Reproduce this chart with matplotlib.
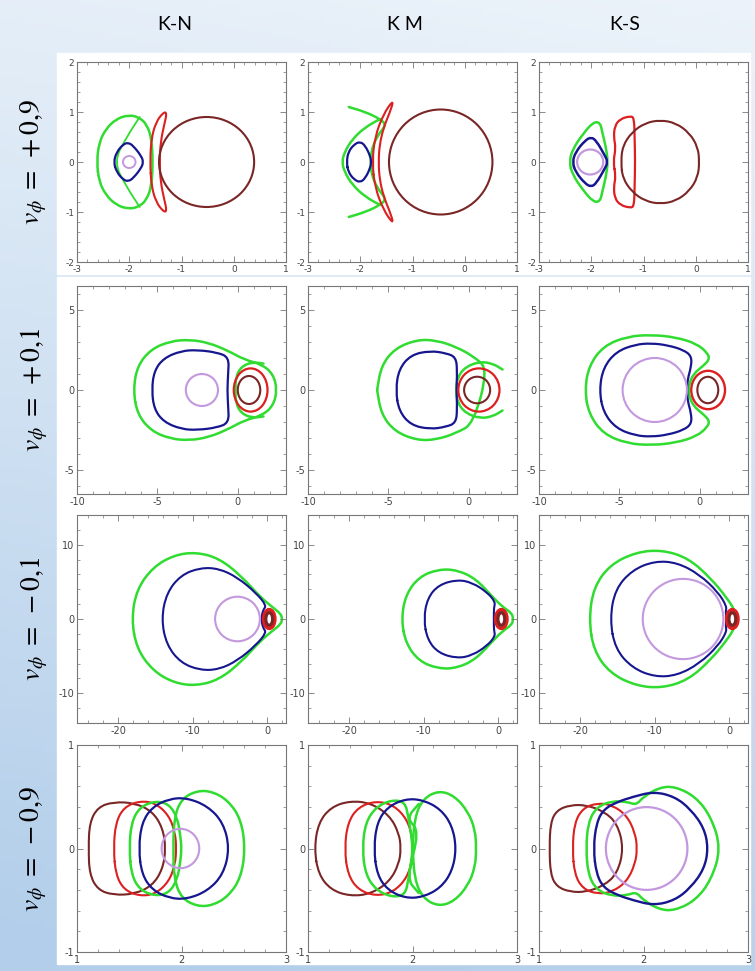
import numpy as np
import matplotlib
matplotlib.use("Agg")
import matplotlib.pyplot as plt
from matplotlib.path import Path
from matplotlib.patches import PathPatch, Ellipse, Rectangle
from matplotlib.ticker import FixedLocator, AutoMinorLocator

plt.rcParams["axes.unicode_minus"] = False
plt.rcParams["mathtext.fontset"] = "stix"

W, H = 755, 971

COL_TITLES = ["K-N", "K M", "K-S"]
ROW_LABELS = [r"$v_\phi\;=\;+0{,}9$", r"$v_\phi\;=\;+0{,}1$",
              r"$v_\phi\;=\;-0{,}1$", r"$v_\phi\;=\;-0{,}9$"]

XLIMS = [(-3, 1), (-10, 3), (-25.5, 2.5), (1, 3)]
YLIMS = [(-2, 2), (-6.5, 6.5), (-14, 14), (-1, 1)]
XTICKS = [[-3, -2, -1, 0, 1], [-10, -5, 0], [-20, -10, 0], [1, 2, 3]]
YTICKS = [[-2, -1, 0, 1, 2], [-5, 0, 5], [-10, 0, 10], [-1, 0, 1]]

GREEN = "#2fdc2f"
BLUE = "#16168f"
VIOLET = "#c398de"
RED = "#dc1f1f"
BROWN = "#7a2626"

# --- curves: upper halves (y >= 0), mirrored about y = 0 ---
# row 1, v = +0.9
KN09_GREEN = [(-2.62, 0), (-2.58, 0.38), (-2.45, 0.66), (-2.25, 0.86), (-2.02, 0.94),
              (-1.82, 0.9), (-1.66, 0.75), (-1.57, 0.45), (-1.55, 0)]
KN09_GREEN_IN = [(-1.8, 0.9), (-2.05, 0.5), (-2.3, 0)]
KN09_BLUE = [(-2.3, 0), (-2.24, 0.2), (-2.12, 0.35), (-2.02, 0.39), (-1.92, 0.32),
             (-1.77, 0.12), (-1.73, 0)]
KN09_VIOLET = (-2.0, 0.24, 0.24)
KN09_RED = [(-1.6, 0), (-1.58, 0.45), (-1.49, 0.8), (-1.34, 1.0), (-1.28, 0.98),
            (-1.33, 0.75), (-1.4, 0.4), (-1.42, 0)]
KN09_BROWN = (-0.52, 1.82, 1.8)

KM09_GREEN_L = [(-1.62, 0.86), (-1.9, 0.7), (-2.15, 0.46), (-2.3, 0.2), (-2.35, 0)]
KM09_GREEN_R = [(-2.22, 1.1), (-1.9, 1.0), (-1.62, 0.86), (-1.5, 0.74), (-1.68, 0.52),
                (-1.79, 0.22), (-1.8, 0)]
KM09_BLUE = [(-2.26, 0), (-2.23, 0.2), (-2.12, 0.35), (-2.0, 0.41), (-1.9, 0.32),
             (-1.81, 0.12), (-1.79, 0)]
KM09_RED = [(-1.77, 0), (-1.72, 0.5), (-1.56, 0.95), (-1.37, 1.24), (-1.4, 1.08),
            (-1.55, 0.7), (-1.63, 0.35), (-1.65, 0)]
KM09_BROWN = (-0.46, 1.98, 2.1)

KS09_GREEN = [(-2.42, 0), (-2.36, 0.25), (-2.16, 0.56), (-1.96, 0.8), (-1.83, 0.79),
              (-1.79, 0.6), (-1.72, 0.3), (-1.68, 0)]
KS09_BLUE = [(-2.36, 0), (-2.3, 0.2), (-2.12, 0.43), (-2.0, 0.5), (-1.9, 0.42),
             (-1.75, 0.15), (-1.68, 0)]
KS09_VIOLET = (-2.02, 0.5, 0.5)
KS09_RED = [(-1.58, 0), (-1.53, 0.28), (-1.57, 0.5), (-1.55, 0.72), (-1.45, 0.86),
            (-1.25, 0.92), (-1.18, 0.88), (-1.17, 0.5), (-1.16, 0)]
KS09_BROWN = [(-1.43, 0), (-1.4, 0.32), (-1.22, 0.6), (-0.97, 0.78), (-0.68, 0.84),
              (-0.38, 0.78), (-0.12, 0.58), (0.04, 0.3), (0.07, 0)]

# row 2, v = +0.1
KN01_GREEN = [(-6.5, 0), (-6.25, 1.5), (-5.4, 2.55), (-4.2, 3.05), (-3.0, 3.15),
              (-1.8, 2.95), (-0.6, 2.45), (0.4, 1.9), (1.5, 1.6), (2.2, 1.0), (2.45, 0)]
KN01_GREEN_IN = [(1.6, 1.65), (0.9, 1.75), (0.2, 1.45), (-0.12, 0.8), (-0.15, 0)]
KN01_BLUE = [(-5.35, 0), (-5.2, 1.2), (-4.6, 2.0), (-3.5, 2.45), (-2.5, 2.5),
             (-1.3, 2.35), (-0.55, 2.05), (-0.6, 1.0), (-0.65, 0)]
KN01_VIOLET = (-2.23, 2.0, 2.0)
KN01_RED = (0.8, 2.1, 2.7)
KN01_BROWN = (0.7, 1.4, 1.75)

KM01_GREEN = [(-5.7, 0), (-5.45, 1.5), (-4.6, 2.6), (-3.2, 3.15), (-2.0, 3.1),
              (-0.8, 2.7), (0.3, 2.1), (1.2, 1.3)]
KM01_GREEN_IN = [(2.1, 1.28), (1.5, 1.65), (0.7, 1.78), (-0.2, 1.45), (-0.7, 0.8),
                 (-0.8, 0)]
KM01_BLUE = [(-4.54, 0), (-4.35, 1.3), (-3.6, 2.2), (-2.4, 2.45), (-1.4, 2.3),
             (-0.8, 2.05), (-0.72, 1.2), (-0.77, 0)]
KM01_RED = (0.63, 2.56, 2.7)
KM01_BROWN = (0.52, 1.62, 1.66)

KS01_GREEN = [(-7.15, 0), (-6.9, 1.5), (-6.0, 2.75), (-4.5, 3.35), (-3.0, 3.45),
              (-1.5, 3.3), (-0.2, 2.9), (0.5, 2.3), (0.6, 1.9), (0.2, 1.5),
              (-0.4, 1.0), (-0.65, 0.4), (-0.7, 0)]
KS01_BLUE = [(-6.25, 0), (-6.0, 1.4), (-5.2, 2.4), (-4.0, 2.85), (-3.0, 2.92),
             (-2.0, 2.8), (-1.0, 2.5), (-0.5, 2.1), (-0.55, 1.4), (-0.75, 0.7), (-0.8, 0)]
KS01_VIOLET = (-2.8, 4.0, 4.0)
KS01_RED = (0.52, 2.1, 2.4)
KS01_BROWN = (0.5, 1.3, 1.65)

# row 3, v = -0.1
KN_01_GREEN = [(-18.2, 0), (-17.5, 4.0), (-15.3, 7.0), (-12.5, 8.6), (-9.6, 9.0),
               (-6.5, 8.2), (-3.5, 5.8), (-1.0, 3.0), (0.8, 1.5), (1.8, 0.7), (2.0, 0)]
KN_01_BLUE = [(-14.2, 0), (-13.5, 3.5), (-11.6, 5.9), (-9.0, 6.9), (-6.5, 6.8),
              (-4.0, 5.6), (-1.5, 3.5), (-0.1, 1.8), (-0.6, 1.2), (-0.8, 0)]
KN_01_VIOLET = (-4.0, 6.0, 6.0)
KN_01_RED = (0.25, 1.5, 2.5)
KN_01_BROWN = (0.25, 0.9, 1.7)

KM_01_GREEN = [(-13.0, 0), (-12.4, 3.3), (-10.6, 5.7), (-8.0, 6.7), (-5.5, 6.6),
               (-3.0, 5.4), (-0.8, 3.0), (0.6, 1.6), (1.8, 0.8), (2.0, 0)]
KM_01_BLUE = [(-10.0, 0), (-9.5, 2.8), (-8.0, 4.6), (-5.5, 5.3), (-3.5, 4.9),
              (-1.5, 3.6), (-0.4, 2.3), (-0.6, 1.5), (-0.6, 0)]
KM_01_RED = (0.4, 1.5, 2.5)
KM_01_BROWN = (0.4, 0.9, 1.7)

KS_01_GREEN = [(-18.8, 0), (-18.2, 4.2), (-16.0, 7.3), (-12.5, 9.0), (-9.0, 9.3),
               (-5.5, 8.2), (-2.5, 5.5), (-0.3, 2.8), (0.7, 1.2), (1.0, 0)]
KS_01_BLUE = [(-16.0, 0), (-15.3, 4.0), (-13.0, 6.6), (-10.0, 7.8), (-7.0, 7.6),
              (-4.0, 6.0), (-1.5, 3.6), (-0.35, 1.7), (-0.5, 1.0), (-0.4, 0)]
KS_01_VIOLET = (-6.2, 10.8, 10.8)
KS_01_RED = (0.4, 1.5, 2.5)
KS_01_BROWN = (0.4, 0.9, 1.7)

# row 4, v = -0.9
KN_09_GREEN_R = [(1.92, 0), (1.93, 0.3), (2.0, 0.48), (2.15, 0.56), (2.3, 0.55),
                 (2.45, 0.46), (2.57, 0.28), (2.61, 0)]
KN_09_GREEN_L = [(1.5, 0), (1.52, 0.25), (1.6, 0.4), (1.75, 0.46), (1.88, 0.43),
                 (1.96, 0.3), (1.99, 0.12), (2.0, 0)]
KN_09_BLUE = [(1.59, 0), (1.62, 0.25), (1.72, 0.4), (1.88, 0.48), (2.05, 0.49),
              (2.25, 0.41), (2.4, 0.25), (2.46, 0)]
KN_09_VIOLET = (1.99, 0.36, 0.38)
KN_09_RED = [(1.35, 0), (1.37, 0.25), (1.45, 0.4), (1.6, 0.46), (1.75, 0.44),
             (1.88, 0.32), (1.94, 0.15), (1.95, 0)]
KN_09_BROWN = [(1.11, 0), (1.12, 0.25), (1.2, 0.4), (1.35, 0.45), (1.55, 0.44),
               (1.72, 0.36), (1.82, 0.2), (1.85, 0)]

KM_09_GREEN_R = [(2.0, 0), (2.02, 0.3), (2.1, 0.48), (2.25, 0.56), (2.4, 0.51),
                 (2.53, 0.36), (2.6, 0.18), (2.61, 0)]
KM_09_GREEN_L = [(1.52, 0), (1.55, 0.25), (1.65, 0.4), (1.8, 0.47), (1.93, 0.45),
                 (1.96, 0.3), (1.99, 0.12), (2.0, 0)]
KM_09_GREEN_TAIL = [(2.06, 0.43), (1.94, 0.29), (2.07, 0.17)]
KM_09_BLUE = [(1.63, 0), (1.66, 0.25), (1.76, 0.4), (1.93, 0.48), (2.1, 0.47),
              (2.27, 0.38), (2.38, 0.22), (2.42, 0)]
KM_09_RED = [(1.35, 0), (1.38, 0.25), (1.48, 0.4), (1.65, 0.46), (1.82, 0.42),
             (1.95, 0.28), (2.0, 0.1), (2.0, 0)]
KM_09_BROWN = [(1.06, 0), (1.1, 0.25), (1.22, 0.4), (1.4, 0.46), (1.6, 0.44),
               (1.78, 0.32), (1.87, 0.15), (1.89, 0)]

KS_09_GREEN = [(1.45, 0), (1.47, 0.25), (1.55, 0.4), (1.7, 0.46), (1.85, 0.45),
               (1.93, 0.42), (2.0, 0.5), (2.15, 0.59), (2.3, 0.6), (2.5, 0.5),
               (2.65, 0.3), (2.74, 0)]
KS_09_BLUE = [(1.52, 0), (1.55, 0.25), (1.62, 0.38), (1.75, 0.45), (1.9, 0.5),
              (2.1, 0.55), (2.3, 0.5), (2.45, 0.38), (2.58, 0.2), (2.62, 0)]
KS_09_VIOLET = (2.03, 0.78, 0.8)
KS_09_RED = [(1.32, 0), (1.34, 0.25), (1.42, 0.39), (1.56, 0.44), (1.7, 0.42),
             (1.84, 0.32), (1.92, 0.15), (1.94, 0)]
KS_09_BROWN = [(1.1, 0), (1.11, 0.25), (1.17, 0.37), (1.3, 0.42), (1.45, 0.42),
               (1.62, 0.36), (1.75, 0.24), (1.81, 0)]

# (kind, data, colour, linewidth) for each panel, rows top to bottom
PANELS = [
    [
        [("closed", KN09_GREEN, GREEN, 1.8), ("open", KN09_GREEN_IN, GREEN, 1.3),
         ("closed", KN09_BLUE, BLUE, 1.6), ("ellipse", KN09_VIOLET, VIOLET, 1.4),
         ("closed", KN09_RED, RED, 1.5), ("ellipse", KN09_BROWN, BROWN, 1.5)],
        [("open", KM09_GREEN_L, GREEN, 1.8), ("open", KM09_GREEN_R, GREEN, 1.8),
         ("closed", KM09_BLUE, BLUE, 1.6), ("closed", KM09_RED, RED, 1.5),
         ("ellipse", KM09_BROWN, BROWN, 1.5)],
        [("closed", KS09_GREEN, GREEN, 1.8), ("closed", KS09_BLUE, BLUE, 1.8),
         ("ellipse", KS09_VIOLET, VIOLET, 1.6), ("closed", KS09_RED, RED, 1.6),
         ("closed", KS09_BROWN, BROWN, 1.5)],
    ],
    [
        [("closed", KN01_GREEN, GREEN, 1.8), ("open", KN01_GREEN_IN, GREEN, 1.8),
         ("closed", KN01_BLUE, BLUE, 1.6), ("ellipse", KN01_VIOLET, VIOLET, 1.5),
         ("ellipse", KN01_RED, RED, 1.6), ("ellipse", KN01_BROWN, BROWN, 1.5)],
        [("open", KM01_GREEN, GREEN, 1.8), ("open", KM01_GREEN_IN, GREEN, 1.8),
         ("closed", KM01_BLUE, BLUE, 1.6), ("ellipse", KM01_RED, RED, 1.6),
         ("ellipse", KM01_BROWN, BROWN, 1.5)],
        [("closed", KS01_GREEN, GREEN, 1.8), ("closed", KS01_BLUE, BLUE, 1.6),
         ("ellipse", KS01_VIOLET, VIOLET, 1.5), ("ellipse", KS01_RED, RED, 1.7),
         ("ellipse", KS01_BROWN, BROWN, 1.5)],
    ],
    [
        [("closed", KN_01_GREEN, GREEN, 1.8), ("closed", KN_01_BLUE, BLUE, 1.5),
         ("ellipse", KN_01_VIOLET, VIOLET, 1.5), ("ellipse", KN_01_RED, RED, 2.6),
         ("ellipse", KN_01_BROWN, BROWN, 2.2)],
        [("closed", KM_01_GREEN, GREEN, 1.8), ("closed", KM_01_BLUE, BLUE, 1.5),
         ("ellipse", KM_01_RED, RED, 2.6), ("ellipse", KM_01_BROWN, BROWN, 2.2)],
        [("closed", KS_01_GREEN, GREEN, 1.8), ("closed", KS_01_BLUE, BLUE, 1.5),
         ("ellipse", KS_01_VIOLET, VIOLET, 1.5), ("ellipse", KS_01_RED, RED, 2.6),
         ("ellipse", KS_01_BROWN, BROWN, 2.2)],
    ],
    [
        [("closed", KN_09_BROWN, BROWN, 1.5), ("closed", KN_09_RED, RED, 1.5),
         ("closed", KN_09_GREEN_L, GREEN, 1.8), ("closed", KN_09_GREEN_R, GREEN, 1.8),
         ("ellipse", KN_09_VIOLET, VIOLET, 1.5), ("closed", KN_09_BLUE, BLUE, 1.6)],
        [("closed", KM_09_BROWN, BROWN, 1.5), ("closed", KM_09_RED, RED, 1.5),
         ("closed", KM_09_GREEN_L, GREEN, 1.8), ("open", KM_09_GREEN_TAIL, GREEN, 1.8),
         ("closed", KM_09_GREEN_R, GREEN, 1.8), ("closed", KM_09_BLUE, BLUE, 1.6)],
        [("closed", KS_09_BROWN, BROWN, 1.5), ("closed", KS_09_RED, RED, 1.5),
         ("closed", KS_09_GREEN, GREEN, 1.8), ("ellipse", KS_09_VIOLET, VIOLET, 1.6),
         ("closed", KS_09_BLUE, BLUE, 1.7)],
    ],
]

# panel frames in pixels
COL_LEFT = [77, 308, 539]
ROW_TOP = [62, 286, 515, 745]
ROW_H = [200, 208, 208, 207]
PANEL_W = 209
TITLE_X = [175, 405, 625]


def mirror(pts, closed):
    if closed:
        return list(pts) + [(x, -y) for x, y in pts[-2:0:-1]]
    return list(pts) + [(x, -y) for x, y in pts[-2::-1]]


def smooth_path(pts, closed):
    p = np.asarray(pts, float)
    mids = (p + np.roll(p, -1, axis=0)) / 2
    if closed:
        verts, codes = [mids[-1]], [Path.MOVETO]
        for c, m in zip(p, mids):
            verts += [c, m]
            codes += [Path.CURVE3, Path.CURVE3]
    else:
        verts, codes = [p[0], mids[0]], [Path.MOVETO, Path.LINETO]
        for i in range(1, len(p) - 1):
            verts += [p[i], mids[i]]
            codes += [Path.CURVE3, Path.CURVE3]
        verts.append(p[-1])
        codes.append(Path.LINETO)
    return Path(verts, codes)


def draw_curve(ax, kind, data, color, lw):
    if kind == "ellipse":
        cx, w, h = data
        ax.add_patch(Ellipse((cx, 0), w, h, fill=False, ec=color, lw=lw))
        return
    closed = kind == "closed"
    pts = mirror(data, closed)
    ax.add_patch(PathPatch(smooth_path(pts, closed), fill=False, ec=color, lw=lw,
                           capstyle="round", joinstyle="round"))


fig = plt.figure(figsize=(W / 100, H / 100), dpi=100)

# background gradient
bg = fig.add_axes([0, 0, 1, 1], zorder=-2)
yy, xx = np.mgrid[0:1:200j, 0:1:100j]
top = np.array([236, 243, 250]) / 255
bot = np.array([178, 206, 234]) / 255
t = np.clip(yy * 0.9 + (1 - xx) * 0.12, 0, 1)[..., None]
bg.imshow(top * (1 - t) + bot * t, aspect="auto", extent=[0, 1, 1, 0])
bg.set_xlim(0, 1)
bg.set_ylim(1, 0)
bg.axis("off")

for r in range(4):
    for c in range(3):
        x0, y0, h = COL_LEFT[c], ROW_TOP[r], ROW_H[r]
        # white screenshot card behind each panel
        fig.add_artist(Rectangle(((x0 - 20) / W, 1 - (y0 + h + 12) / H),
                                 (PANEL_W + 22) / W, (h + 21) / H,
                                 transform=fig.transFigure, color="white", zorder=-1))
        ax = fig.add_axes([x0 / W, 1 - (y0 + h) / H, PANEL_W / W, h / H])
        ax.set_xlim(*XLIMS[r])
        ax.set_ylim(*YLIMS[r])
        ax.xaxis.set_major_locator(FixedLocator(XTICKS[r]))
        ax.yaxis.set_major_locator(FixedLocator(YTICKS[r]))
        ax.xaxis.set_minor_locator(AutoMinorLocator(5))
        ax.yaxis.set_minor_locator(AutoMinorLocator(5))
        ax.tick_params(which="both", direction="in", top=True, right=True,
                       colors="#777777", labelcolor="#444444",
                       labelsize=6.5 if r == 0 else 7, pad=2)
        ax.tick_params(which="major", length=4, width=0.6)
        ax.tick_params(which="minor", length=2, width=0.5)
        for s in ax.spines.values():
            s.set_color("#777777")
            s.set_linewidth(0.8)
        for kind, data, color, lw in PANELS[r][c]:
            draw_curve(ax, kind, data, color, lw)

for c, title in enumerate(COL_TITLES):
    fig.text(TITLE_X[c] / W, 1 - 25 / H, title, ha="center", va="center",
             fontsize=14, family=["Lato", "DejaVu Sans"])

for r, label in enumerate(ROW_LABELS):
    fig.text(34 / W, 1 - (ROW_TOP[r] + ROW_H[r] / 2) / H, label, rotation=90,
             ha="center", va="center", fontsize=20)

fig.savefig("out.png", dpi=100)
